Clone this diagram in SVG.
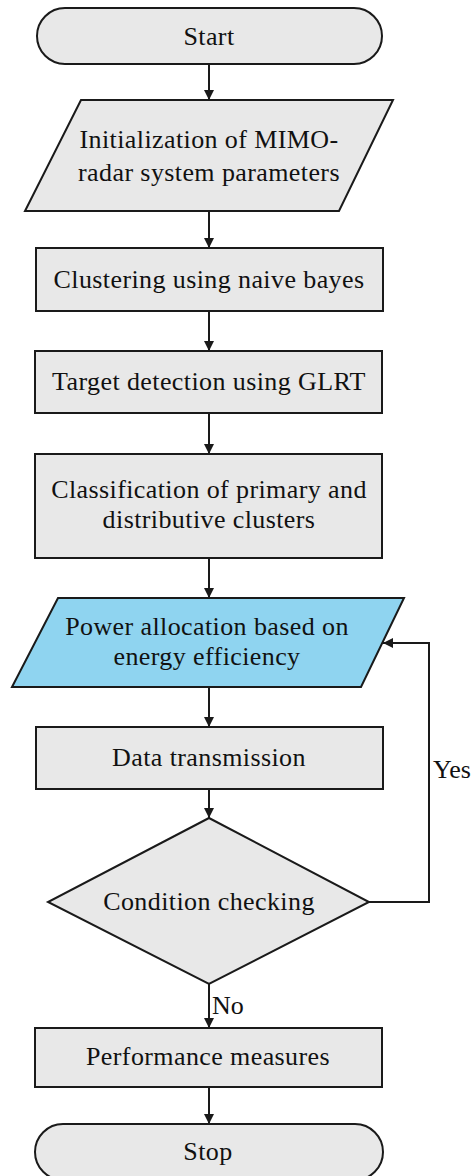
<svg xmlns="http://www.w3.org/2000/svg" width="475" height="1176" viewBox="0 0 475 1176">
<style>
.n{fill:#e8e8e8;stroke:#1a1a1a;stroke-width:2}
.b{fill:#8fd4f0;stroke:#1a1a1a;stroke-width:2}
.t{font-family:"Liberation Serif","Times New Roman",serif;font-size:26px;letter-spacing:0.4px;fill:#111;text-anchor:middle}
.l{font-family:"Liberation Serif","Times New Roman",serif;font-size:26px;fill:#111}
.c{fill:none;stroke:#1a1a1a;stroke-width:2;marker-end:url(#a)}
</style>
<defs>
<marker id="a" viewBox="0 0 10 10" refX="10" refY="5" markerWidth="5" markerHeight="5" orient="auto" markerUnits="strokeWidth">
<path d="M0,0 L10,5 L0,10 z" fill="#1a1a1a"/>
</marker>
</defs>
<g id="connectors">
<path class="c" d="M209,64 V100"/>
<path class="c" d="M209,211 V248"/>
<path class="c" d="M209,311 V351"/>
<path class="c" d="M209,413 V454"/>
<path class="c" d="M209,558 V598"/>
<path class="c" d="M209,687 V727"/>
<path class="c" d="M209,789 V818"/>
<path class="c" d="M209,984 V1028"/>
<path class="c" d="M209,1087 V1124"/>
<path class="c" d="M369,902 H429 V643 H383"/>
<text class="l" x="433" y="778">Yes</text>
<text class="l" x="212" y="1014">No</text>
</g>
<g id="start">
<rect class="n" x="37" y="8" width="345" height="56" rx="28" ry="28"/>
<text class="t" x="209" y="45">Start</text>
</g>
<g id="init">
<polygon class="n" points="81,100 393,100 339,211 25,211"/>
<text class="t" x="209" y="148">Initialization of MIMO-</text>
<text class="t" x="209" y="181">radar system parameters</text>
</g>
<g id="clustering">
<rect class="n" x="36" y="248" width="347" height="63"/>
<text class="t" x="209" y="288">Clustering using naive bayes</text>
</g>
<g id="target">
<rect class="n" x="35" y="351" width="347" height="62"/>
<text class="t" x="209" y="390">Target detection using GLRT</text>
</g>
<g id="classification">
<rect class="n" x="35" y="454" width="347" height="104"/>
<text class="t" x="209" y="498">Classification of primary and</text>
<text class="t" x="209" y="528">distributive clusters</text>
</g>
<g id="power">
<polygon class="b" points="58,598 404,598 361,687 12,687"/>
<text class="t" x="207" y="635">Power allocation based on</text>
<text class="t" x="207" y="665">energy efficiency</text>
</g>
<g id="data">
<rect class="n" x="36" y="727" width="347" height="62"/>
<text class="t" x="209" y="766">Data transmission</text>
</g>
<g id="condition">
<polygon class="n" points="209,818 369,902 209,984 48,902"/>
<text class="t" x="209" y="910">Condition checking</text>
</g>
<g id="performance">
<rect class="n" x="35" y="1028" width="347" height="59"/>
<text class="t" x="208" y="1065">Performance measures</text>
</g>
<g id="stop">
<rect class="n" x="35" y="1124" width="348" height="56" rx="28" ry="28"/>
<text class="t" x="208" y="1160">Stop</text>
</g>
</svg>
